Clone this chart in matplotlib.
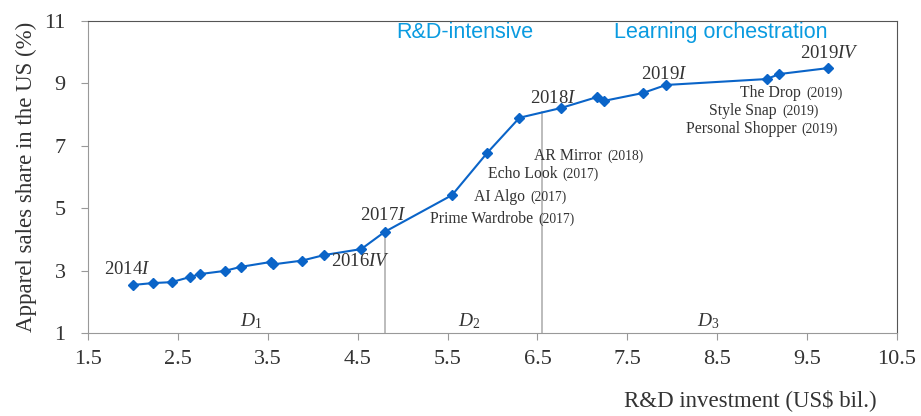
import matplotlib.pyplot as plt

plt.rcParams['font.family'] = ['Liberation Serif', 'DejaVu Serif']
plt.rcParams['mathtext.fontset'] = 'custom'
plt.rcParams['mathtext.rm'] = 'Liberation Serif'
plt.rcParams['mathtext.it'] = 'Liberation Serif:italic'

# R&D investment (US$ bil.) and apparel sales share (%) per quarter
rd_invest = [2.00, 2.22, 2.43, 2.63, 2.75, 3.02, 3.20, 3.54, 3.56, 3.88, 4.13, 4.54,
             4.80, 5.55, 5.94, 6.30, 6.76, 7.16, 7.24, 7.67, 7.93, 9.05, 9.19, 9.73]
sales_share = [2.54, 2.60, 2.63, 2.79, 2.89, 2.99, 3.12, 3.28, 3.20, 3.32, 3.50, 3.69,
               4.24, 5.42, 6.77, 7.90, 8.21, 8.56, 8.44, 8.69, 8.95, 9.14, 9.30, 9.49]

# quarter labels (text, x, y)
quarter_labels = ["2014$\\mathit{I}$", "2016$\\mathit{IV}$", "2017$\\mathit{I}$",
                  "2018$\\mathit{I}$", "2019$\\mathit{I}$", "2019$\\mathit{IV}$"]
quarter_x = [1.94, 4.53, 4.78, 6.68, 7.91, 9.75]
quarter_y = [3.05, 3.28, 4.78, 8.53, 9.30, 9.97]

# launches: name, year, split position
launch_names = ["AR Mirror", "Echo Look", "AI Algo", "Prime Wardrobe",
                "The Drop", "Style Snap", "Personal Shopper"]
launch_years = ["(2018)", "(2017)", "(2017)", "(2017)", "(2019)", "(2019)", "(2019)"]
launch_x = [7.25, 6.75, 6.39, 6.48, 9.46, 9.19, 9.41]
launch_y = [6.67, 6.10, 5.36, 4.65, 8.69, 8.12, 7.54]

# phase boundaries
boundaries = [4.80, 6.55]
boundary_top = [4.24, 8.07]
phases = ["$\\mathit{D_1}$", "$\\mathit{D_2}$", "$\\mathit{D_3}$"]
phase_x = [3.32, 5.74, 8.40]

fig = plt.figure(figsize=(9.21, 4.16), dpi=100)
ax = fig.add_axes([0.0955, 0.1995, 0.8785, 0.75])

for b, t in zip(boundaries, boundary_top):
    ax.plot([b, b], [1, t], color='#b0b0b0', lw=1.2, zorder=1)

ax.plot(rd_invest, sales_share, color='#0a64c8', lw=1.5, marker='D',
        markersize=5.5, zorder=3)

txt = '#333333'
for s, x, y in zip(quarter_labels, quarter_x, quarter_y):
    ax.text(x, y, s, ha='center', va='center', fontsize=13.5, color=txt)

for n, yr, x, y in zip(launch_names, launch_years, launch_x, launch_y):
    ax.text(x - 0.03, y, n, ha='right', va='center', fontsize=11.3, color=txt)
    ax.text(x + 0.03, y, yr, ha='left', va='center', fontsize=9.8, color=txt)

for s, x in zip(phases, phase_x):
    ax.text(x, 1.38, s, ha='center', va='center', fontsize=14, color=txt)

ax.text(5.69, 10.62, "R&D-intensive", ha='center', va='center', fontsize=15.5,
        color='#0a9be0', family=['Liberation Sans', 'DejaVu Sans'])
ax.text(8.54, 10.62, "Learning orchestration", ha='center', va='center',
        fontsize=15.5, color='#0a9be0', family=['Liberation Sans', 'DejaVu Sans'])

ax.set_xlim(1.5, 10.5)
ax.set_ylim(1, 11)
ax.set_xticks([1.5, 2.5, 3.5, 4.5, 5.5, 6.5, 7.5, 8.5, 9.5, 10.5])
ax.set_yticks([1, 3, 5, 7, 9, 11])
ax.tick_params(axis='both', labelsize=16, colors='#333333', length=5,
               color='#999999')
ax.tick_params(axis='x', pad=7)
ax.tick_params(axis='y', pad=11)

for side in ['left', 'bottom']:
    ax.spines[side].set_color('#999999')
for side in ['top', 'right']:
    ax.spines[side].set_color('#555555')

ax.set_xlabel("R&D investment (US$ bil.)", fontsize=16.5, color='#333333',
              ha='right', va='top')
ax.xaxis.set_label_coords(0.975, -0.18)
ax.set_ylabel("Apparel sales share in the US (%)", fontsize=16.5, color='#333333',
              labelpad=5)

fig.savefig("out.png", dpi=100)
